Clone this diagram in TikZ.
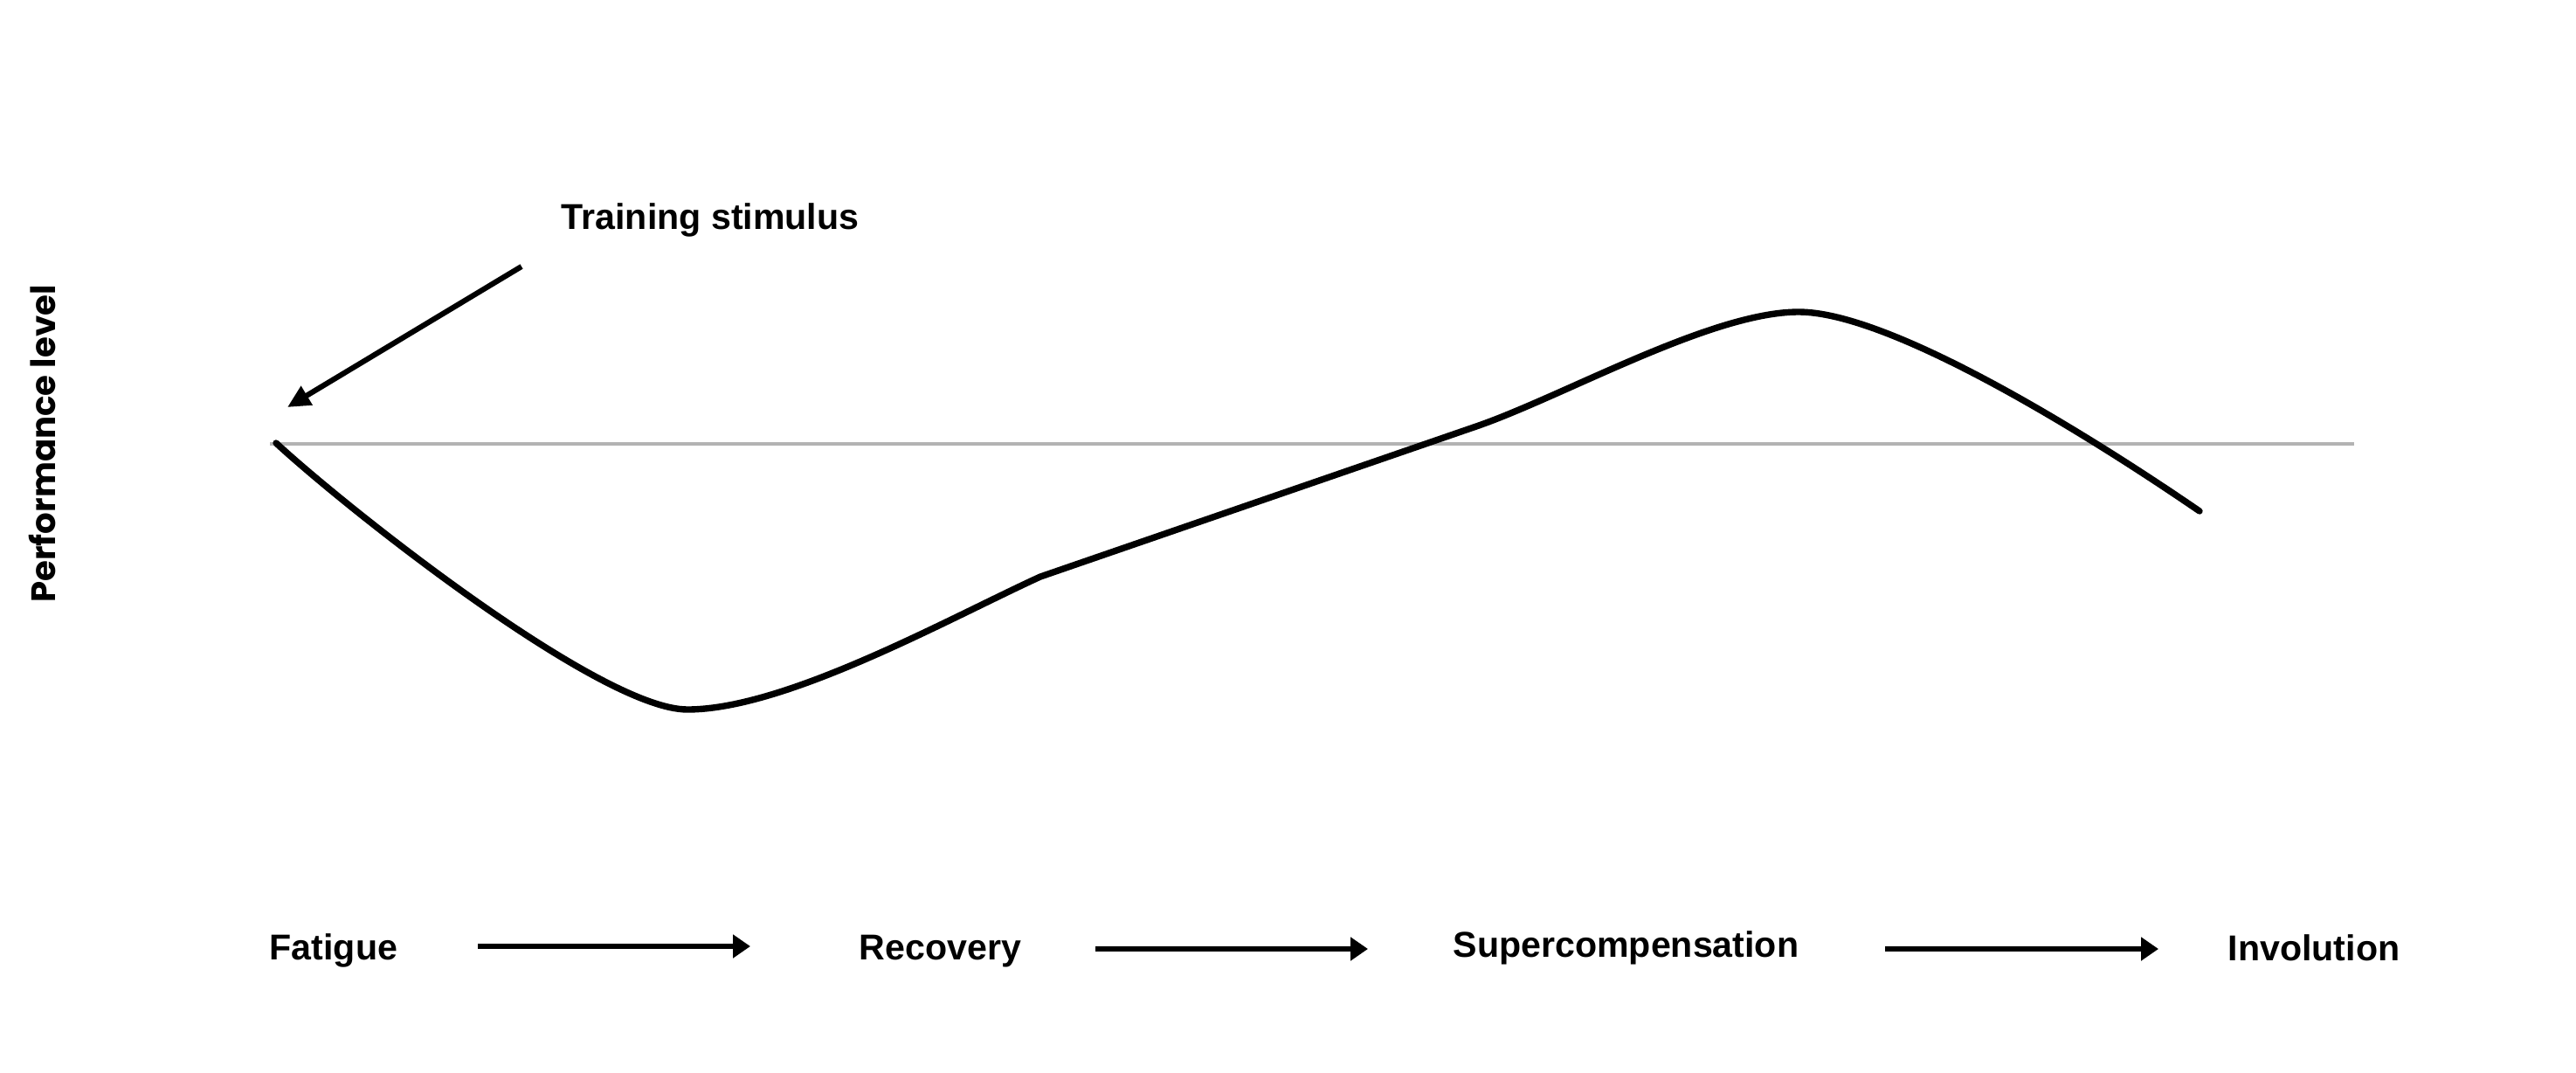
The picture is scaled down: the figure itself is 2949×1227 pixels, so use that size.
\documentclass[tikz,border=0pt]{standalone}
\usepackage{fontspec}
\setmainfont{Liberation Sans}
\newfontfamily\popfont{Poppins}
\usetikzlibrary{arrows.meta}
\begin{document}
\begin{tikzpicture}[x=0.01cm,y=-0.01cm,
  lbl/.style={inner sep=0pt,anchor=base west,font=\fontsize{11.7pt}{14pt}\selectfont\bfseries},
  curve/.style={line width=2.1pt,line cap=round,line join=round},
  conn/.style={line width=1.85pt,-{Triangle[length=0.2cm,width=0.26cm]}},
  stim/.style={line width=1.75pt,-{Triangle[length=0.26cm,width=0.24cm]}},
  base/.style={line width=1pt,draw=basegrey}]
\definecolor{basegrey}{HTML}{B3B3B3}
\useasboundingbox (0,0) rectangle (2949,1227);
% y axis label
\node[inner sep=0pt,rotate=90,anchor=base,font=\popfont\fontsize{11pt}{14pt}\selectfont\bfseries] (ylab) at (63,508) {Performance level};
% baseline
\coordinate (b0) at (309,508);
\coordinate (b1) at (2695,508);
\draw[base] (b0) -- (b1);
% curve
\coordinate (c0) at (316,507);
\coordinate (cmin) at (787,812);
\coordinate (ck) at (1191,660);
\coordinate (cs) at (1690,488);
\coordinate (cmax) at (2059,357);
\coordinate (cend) at (2518,585);
\draw[curve] (c0) .. controls (396,581) and (687,812) .. (cmin)
  .. controls (900,812) and (1088,707) .. (ck)
  -- (cs)
  .. controls (1790,453.5) and (1959,357) .. (cmax)
  .. controls (2160,357) and (2375,487) .. (cend);
% training stimulus
\node[lbl] (stimtxt) at (642,262) {Training stimulus};
\coordinate (s0) at (597,305);
\coordinate (s1) at (329,466);
\draw[stim] (s0) -- (s1);
% phases
\node[lbl] (fat) at (308,1098) {Fatigue};
\node[lbl] (rec) at (983,1098) {Recovery};
\node[lbl] (sup) at (1663,1095) {Supercompensation};
\node[lbl] (inv) at (2550,1099) {Involution};
\coordinate (a1s) at (547,1083);
\coordinate (a1e) at (859,1083);
\coordinate (a2s) at (1254,1086);
\coordinate (a2e) at (1566,1086);
\coordinate (a3s) at (2158,1086);
\coordinate (a3e) at (2471,1086);
\draw[conn] (a1s) -- (a1e);
\draw[conn] (a2s) -- (a2e);
\draw[conn] (a3s) -- (a3e);
\end{tikzpicture}
\end{document}
